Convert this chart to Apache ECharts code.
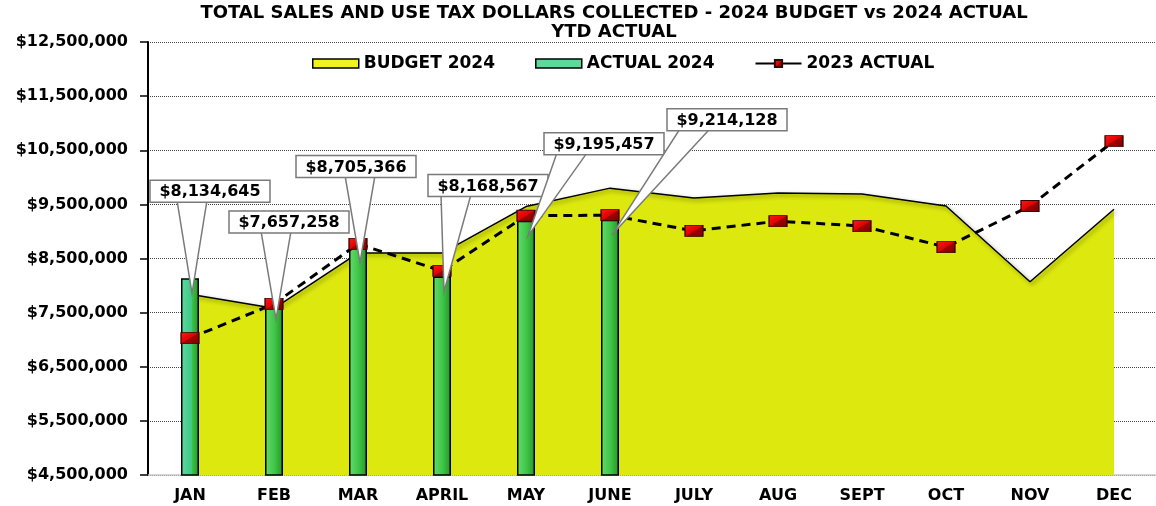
<!DOCTYPE html>
<html><head><meta charset="utf-8">
<script src="https://cdn.jsdelivr.net/npm/echarts@6/dist/echarts.min.js"></script>
<style>html,body{margin:0;padding:0;background:#fff}#c{width:1156px;height:506px}</style>
</head><body><div id="c"></div>
<script>
const months = ['JAN','FEB','MAR','APRIL','MAY','JUNE','JULY','AUG','SEPT','OCT','NOV','DEC'];
const budget2024 = [7840000, 7580000, 8600000, 8600000, 9460000, 9800000, 9620000, 9710000, 9690000, 9470000, 8070000, 9410000];
const actual2024 = [8134645, 7657258, 8705366, 8168567, 9195457, 9214128];
const actual2023 = [7030000, 7660000, 8770000, 8270000, 9290000, 9300000, 9010000, 9190000, 9100000, 8710000, 9470000, 10670000];
const yTicks = [4500000, 5500000, 6500000, 7500000, 8500000, 9500000, 10500000, 11500000, 12500000];

// callout box placement, pixel offsets from each bar top (layout, not data)
const calloutOffsets = [[20,-87],[15,-82],[-2,-81],[46,-91],[78,-77],[117,-100]];

const FONT = '"DejaVu Sans", "Liberation Sans", sans-serif';
const fmt = v => '$' + Math.round(v).toLocaleString('en-US');

const barGreen = new echarts.graphic.LinearGradient(0,0,1,0,[
  {offset:0,color:'#63dd6e'},{offset:0.55,color:'#3ec446'},{offset:1,color:'#279227'}]);
const barMint = new echarts.graphic.LinearGradient(0,0,1,0,[
  {offset:0,color:'#5fd9a0'},{offset:0.6,color:'#3fc884'},{offset:0.61,color:'#3ec446'},{offset:1,color:'#279227'}]);
const redMarker = new echarts.graphic.LinearGradient(0,0,1,1,[
  {offset:0,color:'#ff1a1a'},{offset:0.5,color:'#e00000'},{offset:0.51,color:'#a00000'},{offset:1,color:'#7a0000'}]);

function renderCallout(params, api) {
  const i = params.dataIndex;
  const p = api.coord([api.value(0), api.value(1)]);
  const off = calloutOffsets[i] || [0,-80];
  const cx = p[0] + off[0], cy = p[1] + off[1];
  const hw = 60, hh = 11;
  const tip = [p[0] + 2, p[1] + 15];
  const bc = Math.min(Math.max(tip[0], cx - hw + 28), cx + hw - 28);
  return {type:'group', children:[
    {type:'polygon', shape:{points:[[bc-15, cy+hh-2],[bc+15, cy+hh-2], tip]},
      style:{fill:'#fff', stroke:'#7a7a7a', lineWidth:1.5}},
    {type:'rect', shape:{x:cx-hw, y:cy-hh, width:hw*2, height:hh*2},
      style:{fill:'#fff', stroke:'#7a7a7a', lineWidth:1.5}},
    {type:'text', x:cx, y:cy+1, style:{text: fmt(api.value(1)), fill:'#000',
      fontSize:16, fontWeight:'bold', fontFamily:FONT, align:'center', verticalAlign:'middle'}}
  ]};
}

const chart = echarts.init(document.getElementById('c'), null, {renderer:'canvas'});
chart.setOption({
  animation:false,
  backgroundColor:'#fff',
  title:{
    text:'TOTAL SALES AND USE TAX DOLLARS COLLECTED - 2024 BUDGET vs 2024 ACTUAL\nYTD ACTUAL',
    left:614, top:4, textAlign:'center', padding:0,
    textStyle:{fontFamily:FONT, fontWeight:'bold', fontSize:18, lineHeight:19, color:'#000'}
  },
  legend:{
    top:50, left:307, itemWidth:46, itemHeight:9, itemGap:40,
    textStyle:{fontFamily:FONT, fontWeight:'bold', fontSize:17, color:'#000'},
    data:[
      {name:'BUDGET 2024', icon:'rect', itemStyle:{color:'#f2f21e', borderColor:'#000', borderWidth:1.5}},
      {name:'ACTUAL 2024', icon:'rect', itemStyle:{color:'#5fd99a', borderColor:'#000', borderWidth:1.5}},
      {name:'2023 ACTUAL', lineStyle:{type:'solid'}}
    ]
  },
  grid:{left:148, top:42, width:1019, height:433, containLabel:false},
  xAxis:{
    type:'category', data:months, boundaryGap:true,
    axisTick:{show:false},
    axisLine:{show:true, lineStyle:{color:'#c8c8c8', width:1.5}},
    axisLabel:{fontFamily:FONT, fontWeight:'bold', fontSize:16, color:'#000', margin:13}
  },
  yAxis:{
    type:'value', min:4500000, max:12500000,
    axisLine:{show:true, lineStyle:{color:'#000', width:2}},
    axisTick:{show:true, customValues:yTicks, length:8, lineStyle:{color:'#000', width:1.5}},
    axisLabel:{customValues:yTicks, formatter:fmt, fontFamily:FONT, fontWeight:'bold', fontSize:16, color:'#000', margin:20},
    splitLine:{show:true, lineStyle:{type:'dotted', color:'#444', width:1}}
  },
  series:[
    {name:'BUDGET 2024', type:'line', data:budget2024, symbol:'none', z:1,
      lineStyle:{color:'#000', width:1.5, shadowColor:'rgba(0,0,0,0.45)', shadowBlur:4, shadowOffsetX:2, shadowOffsetY:2},
      itemStyle:{color:'#f2f21e'},
      areaStyle:{color:'#dce80e', opacity:1}},
    {name:'ACTUAL 2024', type:'bar', barWidth:18, z:2,
      data: actual2024.map((v,i)=> i===0 ? {value:v, itemStyle:{color:barMint}} : v),
      itemStyle:{color:barGreen, borderColor:'#000', borderWidth:1.5}},
    {name:'2023 ACTUAL', type:'line', data:actual2023, z:4,
      symbol:'rect', symbolSize:[18,11],
      itemStyle:{color:redMarker, borderColor:'#3a0000', borderWidth:1},
      lineStyle:{color:'#000', width:3, type:[9,6]}},
    {type:'custom', z:6, renderItem:renderCallout, silent:true,
      encode:{x:0, y:1},
      data: actual2024.map((v,i)=>[i, v])}
  ]
});
</script>
</body></html>
